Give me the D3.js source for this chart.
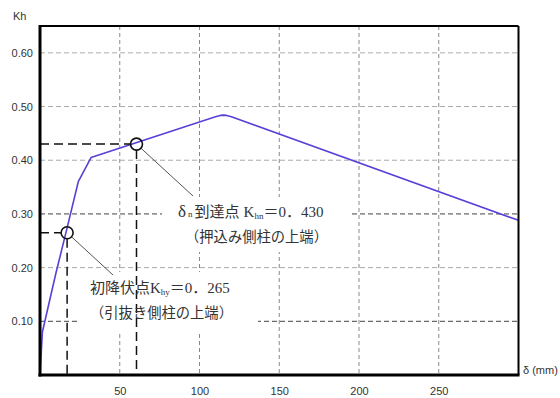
<!DOCTYPE html>
<html><head><meta charset="utf-8">
<script src="https://cdn.jsdelivr.net/npm/d3@7"></script>
<style>
html,body{margin:0;padding:0;background:#fff;}
svg{display:block;}
</style></head>
<body>
<svg id="c" width="560" height="398"></svg>
<script>
// data
const curveX = [0, 1.5, 10, 16.5, 24, 32, 110, 113, 115, 117, 120, 300];
const curveY = [0, 0.08, 0.19, 0.268, 0.36, 0.405, 0.481, 0.4835, 0.484, 0.4835, 0.481, 0.288];
const xTicks = [50, 100, 150, 200, 250];
const yTicks = [0.10, 0.20, 0.30, 0.40, 0.50, 0.60];
const darkYGrid = [0.10, 0.30];
const markX = [17, 60.5];
const markY = [0.265, 0.430];
const markLabels = [
  {name:"初降伏点", sym:"K", sub:"hy", val:"＝0．265", note:"（引抜き側柱の上端）"},
  {name:"到達点", pre:"δ", preSub:"n", sym:"K", sub:"hn", val:"＝0．430", note:"（押込み側柱の上端）"}
];
const yLabel = "Kh";
const xLabel = "δ (mm)";

const svg = d3.select("#c");
const L = 40, R = 518.5, T = 26, B = 375;
const x = d3.scaleLinear().domain([0, 300]).range([L, R]);
const y = d3.scaleLinear().domain([0, 0.65]).range([B, T]);

const latin = "'Liberation Sans', Arial, sans-serif";
const serif = "'Liberation Serif', 'Noto Sans CJK JP', serif";

// grid
const g = svg.append("g");
g.selectAll("line.v").data(xTicks).enter().append("line")
  .attr("x1", d => x(d)).attr("x2", d => x(d)).attr("y1", T).attr("y2", B)
  .attr("stroke", "#888").attr("stroke-width", 1).attr("stroke-dasharray", "4,3");
g.selectAll("line.h").data(yTicks).enter().append("line")
  .attr("x1", L).attr("x2", R).attr("y1", d => y(d)).attr("y2", d => y(d))
  .attr("stroke", d => darkYGrid.some(v => Math.abs(v - d) < 1e-9) ? "#444" : "#aaa")
  .attr("stroke-width", 1).attr("stroke-dasharray", "5,3");

// annotation boxes (white, hide grid)
const boxes = [
  {x0: 80, x1: 258, y0: 272, y1: 333},
  {x0: 162, x1: 350, y0: 197, y1: 252}
];
svg.selectAll("rect.box").data(boxes).enter().append("rect")
  .attr("x", d => d.x0).attr("y", d => d.y0)
  .attr("width", d => d.x1 - d.x0).attr("height", d => d.y1 - d.y0)
  .attr("fill", "#fff");

// curve
const pts = curveX.map((v, i) => [v, curveY[i]]);
svg.append("path").datum(pts)
  .attr("d", d3.line().x(d => x(d[0])).y(d => y(d[1])))
  .attr("fill", "none").attr("stroke", "#5a3fd8").attr("stroke-width", 1.6)
  .attr("stroke-linejoin", "round");

// heavy dashed guide lines
const r = 6;
markX.forEach((mx, i) => {
  const px = x(mx), py = y(markY[i]);
  svg.append("line").attr("x1", L).attr("x2", px - r).attr("y1", py).attr("y2", py)
    .attr("stroke", "#111").attr("stroke-width", 1.5).attr("stroke-dasharray", "9,5");
  svg.append("line").attr("x1", px).attr("x2", px).attr("y1", py + r).attr("y2", B)
    .attr("stroke", "#111").attr("stroke-width", 1.5).attr("stroke-dasharray", "9,5");
});

// leader lines
const leaderEnd = [[113, 275], [193, 196]];
markX.forEach((mx, i) => {
  const px = x(mx), py = y(markY[i]);
  const [ex, ey] = leaderEnd[i];
  const ang = Math.atan2(ey - py, ex - px);
  svg.append("line").attr("x1", px + r * Math.cos(ang)).attr("y1", py + r * Math.sin(ang))
    .attr("x2", ex).attr("y2", ey).attr("stroke", "#555").attr("stroke-width", 1);
});

// circles
svg.selectAll("circle.m").data(markX).enter().append("circle")
  .attr("cx", d => x(d)).attr("cy", (d, i) => y(markY[i])).attr("r", r)
  .attr("fill", "none").attr("stroke", "#111").attr("stroke-width", 1.6);

// annotation texts
const textPos = [
  {x1: 90, y1: 293, x2: 90, y2: 318},
  {x1: 178, y1: 217, x2: 185, y2: 242}
];
markLabels.forEach((m, i) => {
  const p = textPos[i];
  const t = svg.append("text").attr("x", p.x1).attr("y", p.y1)
    .attr("font-family", serif).attr("font-size", 15).attr("fill", "#333");
  if (m.pre) {
    t.append("tspan").text(m.pre).attr("font-size", 17);
    t.append("tspan").text(m.preSub).attr("font-size", 9).attr("dx", 2);
    t.append("tspan").text(m.name).attr("dx", 2);
    t.append("tspan").text(m.sym).attr("dx", 4);
  } else {
    t.append("tspan").text(m.name);
    t.append("tspan").text(m.sym);
  }
  t.append("tspan").text(m.sub).attr("font-size", 9).attr("dy", 2);
  t.append("tspan").text(m.val).attr("dy", -2);
  svg.append("text").attr("x", p.x2).attr("y", p.y2)
    .attr("font-family", serif).attr("font-size", 14.3).attr("fill", "#333")
    .text(m.note);
});

// frame
svg.append("line").attr("x1", L).attr("x2", R).attr("y1", T).attr("y2", T).attr("stroke", "#000").attr("stroke-width", 2);
svg.append("line").attr("x1", R).attr("x2", R).attr("y1", T).attr("y2", B).attr("stroke", "#000").attr("stroke-width", 2);
svg.append("line").attr("x1", L).attr("x2", L).attr("y1", T - 1).attr("y2", B + 1.5).attr("stroke", "#000").attr("stroke-width", 3);
svg.append("line").attr("x1", L - 1.5).attr("x2", R + 1).attr("y1", B).attr("y2", B).attr("stroke", "#000").attr("stroke-width", 3);

// axes tick labels
const ya = svg.append("g").attr("transform", `translate(${L - 4},0)`)
  .call(d3.axisLeft(y).tickValues(yTicks).tickSize(0).tickFormat(d3.format(".2f")));
ya.select(".domain").remove();
ya.selectAll("text").attr("font-family", latin).attr("font-size", 11).attr("fill", "#333");

const xa = svg.append("g").attr("transform", `translate(0,${B + 9})`)
  .call(d3.axisBottom(x).tickValues(xTicks).tickSize(0).tickFormat(d3.format("d")));
xa.select(".domain").remove();
xa.selectAll("text").attr("font-family", latin).attr("font-size", 11).attr("fill", "#333");

svg.append("text").attr("x", 13).attr("y", 20).text(yLabel)
  .attr("font-family", latin).attr("font-size", 11).attr("fill", "#333");
svg.append("text").attr("x", 523).attr("y", 374).text(xLabel)
  .attr("font-family", latin).attr("font-size", 11).attr("fill", "#333");
</script>
</body></html>
